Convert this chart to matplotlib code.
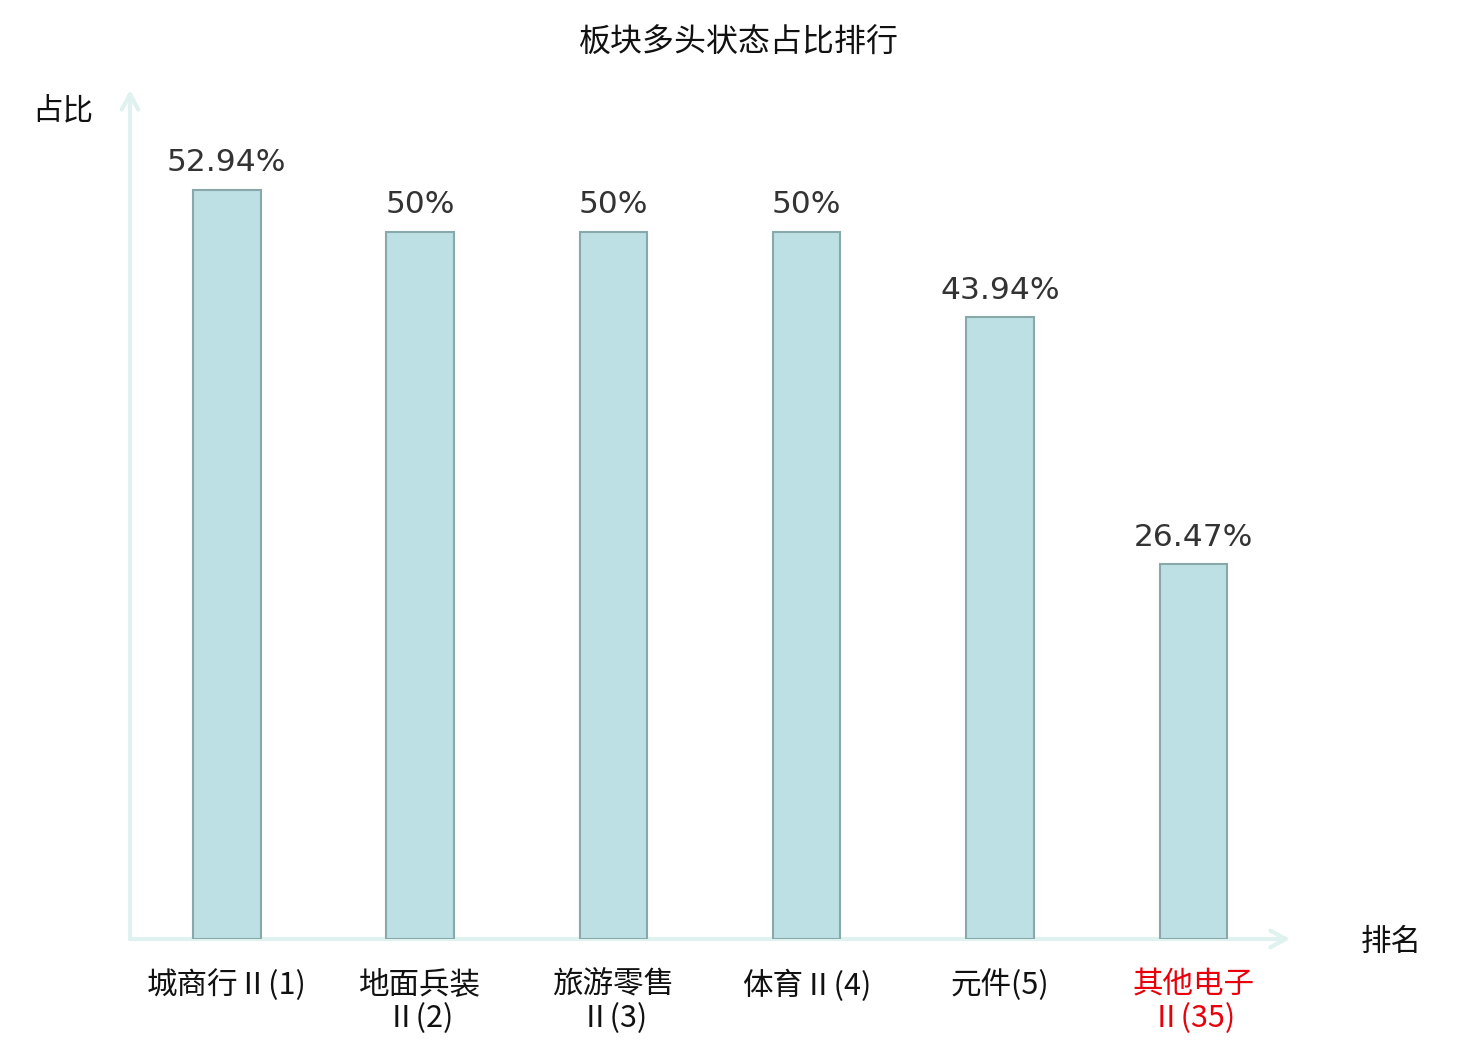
import matplotlib
matplotlib.use('Agg')
from matplotlib import pyplot as plt

plt.rcParams['font.family'] = ['Noto Sans CJK SC', 'DejaVu Sans']

# data
categories = ['城商行Ⅱ(1)', '地面兵装\nⅡ(2)', '旅游零售\nⅡ(3)', '体育Ⅱ(4)', '元件(5)', '其他电子\nⅡ(35)']
values = [52.94, 50, 50, 50, 43.94, 26.47]
value_labels = ['52.94%', '50%', '50%', '50%', '43.94%', '26.47%']
label_colors = ['#111111', '#111111', '#111111', '#111111', '#111111', '#e8000b']

W, H = 1480, 1040
fig = plt.figure(figsize=(W / 100, H / 100), dpi=100)
# axes placed in pixel terms: left 130, right 1290, top 90, bottom 939
ax = fig.add_axes([130 / W, (H - 939) / H, (1290 - 130) / W, (939 - 90) / H])

x = list(range(len(categories)))
ax.bar(x, values, width=0.35, color='#bce0e3', edgecolor='#89a8aa', linewidth=1.5, zorder=2)

for xi, v, lab in zip(x, values, value_labels):
    ax.annotate(lab, (xi, v), xytext=(0, 9), textcoords='offset points',
                ha='center', va='bottom', fontsize=22.5, color='#333333',
                family='DejaVu Sans')

ax.set_xlim(-0.5, 5.5)
ax.set_ylim(0, 60)

for s in ax.spines.values():
    s.set_visible(False)
ax.set_yticks([])
ax.set_xticks(x)
ax.set_xticklabels(categories, fontsize=22, linespacing=1.1)
for t, c in zip(ax.get_xticklabels(), label_colors):
    t.set_color(c)
ax.tick_params(axis='x', length=0, pad=22)

axis_col = '#dff2ef'
arrow = dict(arrowstyle='->,head_length=1.1,head_width=0.6',
             color=axis_col, lw=3, shrinkA=0, shrinkB=0)
ax.annotate('', xy=(0, 1.0), xytext=(0, 0), xycoords='axes fraction',
            arrowprops=arrow, zorder=1, annotation_clip=False)
ax.annotate('', xy=(1.0, 0), xytext=(0, 0), xycoords='axes fraction',
            arrowprops=arrow, zorder=1, annotation_clip=False)

fig.text(739 / W, 1 - 43 / H, '板块多头状态占比排行', ha='center', va='center', fontsize=23, color='#111111')
fig.text(63 / W, 1 - 111 / H, '占比', ha='center', va='center', fontsize=22, color='#111111')
fig.text(1391 / W, 1 - 942 / H, '排名', ha='center', va='center', fontsize=22, color='#111111')

fig.savefig('out.png', dpi=100)
